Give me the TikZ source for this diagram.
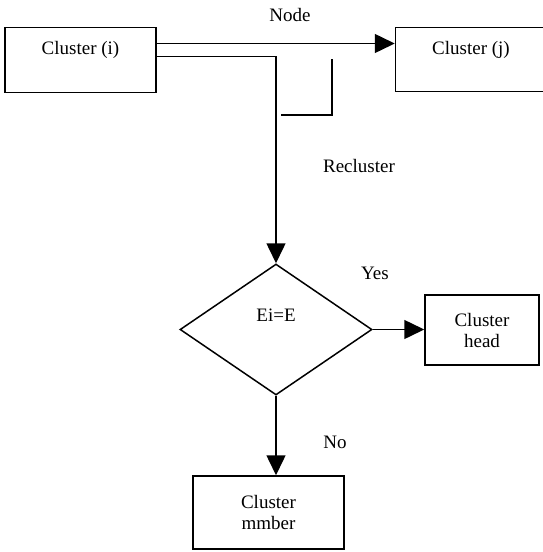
\documentclass[tikz,border=0pt]{standalone}
\usepackage{fontspec}
\setmainfont{Liberation Serif}
\usetikzlibrary{shapes.geometric,arrows.meta}

\tikzset{
  box/.style={draw=black, line width=1.5pt, inner sep=0pt, align=center},
  flow/.style={color=black, line width=1.5pt, -{Triangle[length=20pt,width=19pt]}},
  txt/.style={inner sep=0pt, anchor=base},
}

\begin{document}
\begin{tikzpicture}[%
      x=1pt, y=-1pt,
      font=\fontsize{19}{21}\selectfont,
      ]
      \useasboundingbox (0,0) rectangle (542,552);

      \node [box, anchor=north, minimum width=151pt, text height=27pt, text depth=38pt] (ci) at (80.5,26.5) {Cluster (i)};
      \node [box, anchor=north, minimum width=151pt, text height=27pt, text depth=37pt] (cj) at (471,26.5) {Cluster (j)};
      \node [draw=black, line width=1.5pt, diamond, inner sep=0pt, minimum width=192pt, minimum height=131pt, text height=12pt, text depth=28pt] (dec) at (276,329.5) {Ei=E};
      \node [box, minimum width=114pt, minimum height=70pt] (ch) at (482,330) {Cluster\\head};
      \node [box, minimum width=151pt, minimum height=73pt] (cm) at (268.5,512.5) {Cluster\\mmber};

      \draw [flow] ([yshift=-17pt]ci.north east) -- ([yshift=-17pt]cj.north west);
      \draw [flow] ([yshift=-30pt]ci.north east) -| (dec.north);
      \draw [color=black, line width=1.5pt] (332,59) -- (332,115) -- (281,115);
      \draw [flow] (dec.east) -- (dec.east -| ch.west);
      \draw [flow] (dec.south) -- (dec.south |- cm.north);

      \node [txt] (lnode) at (290,21) {Node};
      \node [txt] (lre) at (359,172) {Recluster};
      \node [txt] (lyes) at (375,279) {Yes};
      \node [txt] (lno) at (335,448) {No};
      \end{tikzpicture}
\end{document}
